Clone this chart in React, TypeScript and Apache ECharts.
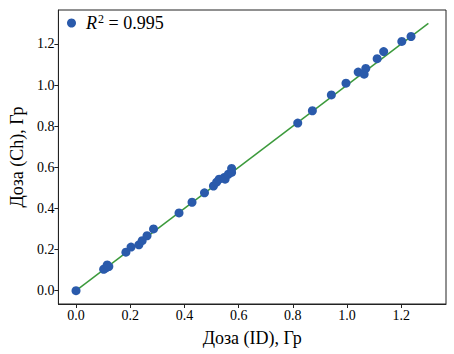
import React, { useEffect, useRef } from "react";
import * as echarts from "echarts";

const doseID = [
  0.0, 0.102, 0.109, 0.115, 0.121, 0.184, 0.203, 0.232, 0.244, 0.262, 0.286,
  0.38, 0.428, 0.474, 0.507, 0.519, 0.528, 0.546, 0.55, 0.562, 0.574, 0.574,
  0.818, 0.872, 0.942, 0.996, 1.041, 1.063, 1.069, 1.111, 1.135, 1.202, 1.236,
];
const doseCh = [
  0.0, 0.104, 0.109, 0.125, 0.117, 0.187, 0.212, 0.223, 0.243, 0.267, 0.3,
  0.378, 0.43, 0.476, 0.509, 0.528, 0.542, 0.55, 0.542, 0.566, 0.575, 0.594,
  0.815, 0.875, 0.952, 1.009, 1.063, 1.053, 1.081, 1.128, 1.163, 1.212, 1.236,
];
const fitLine = [
  [0, 0],
  [1.3, 1.3],
];
const tickValues = [0, 0.2, 0.4, 0.6, 0.8, 1.0, 1.2];
const r2Label = "0.995";
const xTitle = "Доза (ID), Гр";
const yTitle = "Доза (Ch), Гр";

const FONT = "'Liberation Serif', 'Times New Roman', serif";

export default function App() {
  const ref = useRef<HTMLDivElement>(null);
  useEffect(() => {
    if (!ref.current) return;
    const chart = echarts.init(ref.current, undefined, { renderer: "svg" });
    const axisCommon = (name: string, gap: number) => ({
      type: "value" as const,
      min: -0.065,
      max: 1.365,
      name,
      nameLocation: "middle" as const,
      nameGap: gap,
      nameTextStyle: { fontFamily: FONT, fontSize: 18, color: "#000" },
      axisLine: { show: true, onZero: false, lineStyle: { color: "#222", width: 1 } },
      axisTick: {
        show: true,
        inside: false,
        length: 4,
        customValues: tickValues,
        lineStyle: { color: "#222" },
      },
      axisLabel: {
        customValues: tickValues,
        formatter: (v: number) => v.toFixed(1),
        fontFamily: FONT,
        fontSize: 14,
        color: "#000",
        margin: 4,
      },
      splitLine: { show: false },
    });
    chart.setOption({
      animation: false,
      backgroundColor: "#fff",
      textStyle: { fontFamily: FONT },
      grid: {
        left: 52,
        right: 8,
        top: 10,
        bottom: 50,
        show: true,
        borderColor: "#222",
        borderWidth: 1,
        backgroundColor: "transparent",
      },
      legend: {
        left: 62,
        top: 8,
        data: [{ name: "r2", icon: "circle" }],
        itemWidth: 19,
        itemHeight: 9,
        symbolKeepAspect: true,
        formatter: () => `{i|R}{s|2}{t| = ${r2Label}}`,
        textStyle: {
          fontFamily: FONT,
          fontSize: 18,
          color: "#000",
          rich: {
            i: { fontFamily: FONT, fontSize: 18, fontStyle: "italic", color: "#000" },
            s: { fontFamily: FONT, fontSize: 12, color: "#000", verticalAlign: "top", padding: [0, 0, 8, 1] },
            t: { fontFamily: FONT, fontSize: 18, color: "#000" },
          },
        },
      },
      xAxis: axisCommon(xTitle, 25),
      yAxis: axisCommon(yTitle, 32),
      series: [
        {
          type: "line",
          data: fitLine,
          symbol: "none",
          lineStyle: { color: "#3c9a3c", width: 1.5 },
          z: 1,
          silent: true,
        },
        {
          name: "r2",
          type: "scatter",
          data: doseID.map((x, i) => [x, doseCh[i]]),
          symbolSize: 9,
          itemStyle: { color: "#2a5aab", opacity: 1 },
          z: 2,
        },
      ],
    });
    return () => chart.dispose();
  }, []);
  return (
    <div
      ref={ref}
      style={{ position: "fixed", left: 0, top: 0, width: 454, height: 354 }}
    />
  );
}
